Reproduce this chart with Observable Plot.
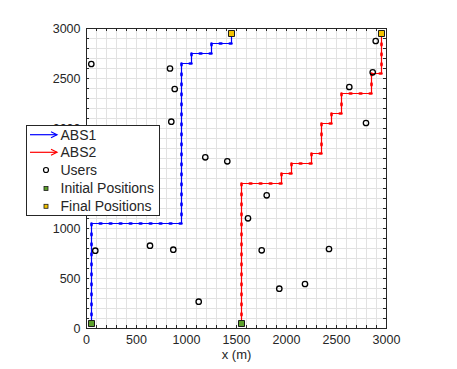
<!DOCTYPE html>
<html><head><meta charset="utf-8">
<script src="https://cdn.jsdelivr.net/npm/d3@7"></script>
<script src="https://cdn.jsdelivr.net/npm/@observablehq/plot@0.6"></script>
<style>
body{margin:0;background:#fff;}
#wrap{position:relative;width:457px;height:369px;}
#legend{position:absolute;left:26px;top:125px;}
</style></head><body><div id="wrap"></div>
<script>
// ABS trajectories (corner points, metres)
const abs1X = [50, 50, 950, 950, 1050, 1050, 1250, 1250, 1450, 1450];
const abs1Y = [50, 1050, 1050, 2650, 2650, 2750, 2750, 2850, 2850, 2950];
const abs2X = [1550, 1550, 1950, 1950, 2050, 2050, 2250, 2250, 2350, 2350, 2450, 2450, 2550, 2550, 2850, 2850, 2950, 2950];
const abs2Y = [50, 1450, 1450, 1550, 1550, 1650, 1650, 1750, 1750, 2050, 2050, 2150, 2150, 2350, 2350, 2550, 2550, 2950];
// Users
const userX = [48, 835, 882, 848, 1188, 1408, 2892, 2862, 2628, 2795, 88, 635, 868, 1122, 1615, 1802, 1752, 2425, 1928, 2185];
const userY = [2645, 2600, 2395, 2068, 1712, 1672, 2875, 2562, 2415, 2055, 778, 828, 788, 268, 1102, 1332, 782, 795, 398, 445];
// Initial / final positions
const initX = [50, 1550];
const initY = [50, 50];
const finalX = [1450, 2950];
const finalY = [2950, 2950];
// Ticks
const xTicks = [0, 500, 1000, 1500, 2000, 2500, 3000];
const yTicks = [0, 500, 1000, 1500, 2000, 2500, 3000];
const minorStep = 100;
const xLabel = "x (m)";
const legendLabels = ["ABS1", "ABS2", "Users", "Initial Positions", "Final Positions"];

const abs1 = abs1X.map((x, i) => ({x, y: abs1Y[i]}));
const abs2 = abs2X.map((x, i) => ({x, y: abs2Y[i]}));
const users = userX.map((x, i) => ({x, y: userY[i]}));
const inits = initX.map((x, i) => ({x, y: initY[i]}));
const finals = finalX.map((x, i) => ({x, y: finalY[i]}));
const minor = d3.range(0, 3000 + minorStep, minorStep);

const axisCol = "#262626";
const gridCol = "#e2e2e2";
const blue = "#0000ff", red = "#ff0000";
const green = "#5b9f2a", yellow = "#f2c200";
const fmt = d3.format("d");

const chart = Plot.plot({
  width: 457, height: 369,
  marginLeft: 86, marginRight: 71, marginTop: 28, marginBottom: 41,
  x: {domain: [0, 3000]},
  y: {domain: [0, 3000]},
  style: {fontFamily: "'Liberation Sans', Arial, sans-serif", fontSize: "12.5px", color: axisCol, background: "#fff"},
  marks: [
    Plot.gridX(minor, {stroke: gridCol, strokeOpacity: 1}),
    Plot.gridY(minor, {stroke: gridCol, strokeOpacity: 1}),
    Plot.tickX(minor, {x: d => d, insetTop: 297, stroke: axisCol}),
    Plot.tickX(minor, {x: d => d, insetBottom: 297, stroke: axisCol}),
    Plot.tickY(minor, {y: d => d, insetRight: 297, stroke: axisCol}),
    Plot.tickY(minor, {y: d => d, insetLeft: 297, stroke: axisCol}),
    Plot.axisX(xTicks, {anchor: "bottom", tickSize: 0, tickPadding: 7, label: null, tickFormat: fmt, fill: axisCol}),
    Plot.axisY(yTicks, {anchor: "left", tickSize: 0, tickPadding: 6, label: null, tickFormat: fmt, fill: axisCol}),
    Plot.frame({stroke: axisCol}),
    Plot.line(abs1, {x: "x", y: "y", stroke: blue, strokeWidth: 1.2}),
    Plot.line(abs1, {x: "x", y: "y", stroke: blue, strokeWidth: 2.6, strokeDasharray: "1.8 8.2", strokeDashoffset: 1.8}),
    Plot.line(abs2, {x: "x", y: "y", stroke: red, strokeWidth: 1.2}),
    Plot.line(abs2, {x: "x", y: "y", stroke: red, strokeWidth: 2.6, strokeDasharray: "1.8 8.2", strokeDashoffset: 1.8}),
    Plot.dot(users, {x: "x", y: "y", r: 2.7, stroke: "#000", strokeWidth: 1.3, fill: "none"}),
    Plot.dot(inits, {x: "x", y: "y", symbol: "square", r: 3.4, fill: green, stroke: "#1a1a1a", strokeWidth: 1}),
    Plot.dot(finals, {x: "x", y: "y", symbol: "square", r: 3.4, fill: yellow, stroke: "#1a1a1a", strokeWidth: 1}),
    Plot.text([xLabel], {text: d => d, frameAnchor: "bottom", dy: 30, fontSize: 13, fill: axisCol})
  ]
});
const wrap = document.getElementById("wrap");
wrap.appendChild(chart);

// Legend (drawn over the axes, as in the reference)
const lw = 134, lh = 91;
const lg = d3.select(wrap).append("svg").attr("id", "legend").attr("width", lw).attr("height", lh)
  .style("font-family", "'Liberation Sans', Arial, sans-serif").style("font-size", "14px");
lg.append("rect").attr("x", 0.5).attr("y", 0.5).attr("width", lw - 1).attr("height", lh - 1)
  .attr("fill", "#fff").attr("stroke", axisCol).attr("stroke-width", 1);
const rowY = [9.7, 27.3, 45, 63.5, 81.3];
const textX = 34.5, symX = 20;
legendLabels.forEach((lab, i) => {
  const y = rowY[i];
  lg.append("text").attr("x", textX).attr("y", y).attr("dy", "0.35em").attr("fill", axisCol).text(lab);
  if (i < 2) {
    const c = i === 0 ? blue : red;
    lg.append("line").attr("x1", 4).attr("x2", 31).attr("y1", y).attr("y2", y).attr("stroke", c).attr("stroke-width", 1.2);
    lg.append("path").attr("d", `M${25},${y - 3}L${31},${y}L${25},${y + 3}`).attr("fill", "none").attr("stroke", c).attr("stroke-width", 1.2);
  } else if (i === 2) {
    lg.append("circle").attr("cx", symX).attr("cy", y).attr("r", 2.5).attr("fill", "none").attr("stroke", "#000").attr("stroke-width", 1.2);
  } else {
    lg.append("rect").attr("x", symX - 2).attr("y", y - 2).attr("width", 4).attr("height", 4)
      .attr("fill", i === 3 ? green : yellow).attr("stroke", "#1a1a1a").attr("stroke-width", 0.8);
  }
});
</script>
</body></html>
